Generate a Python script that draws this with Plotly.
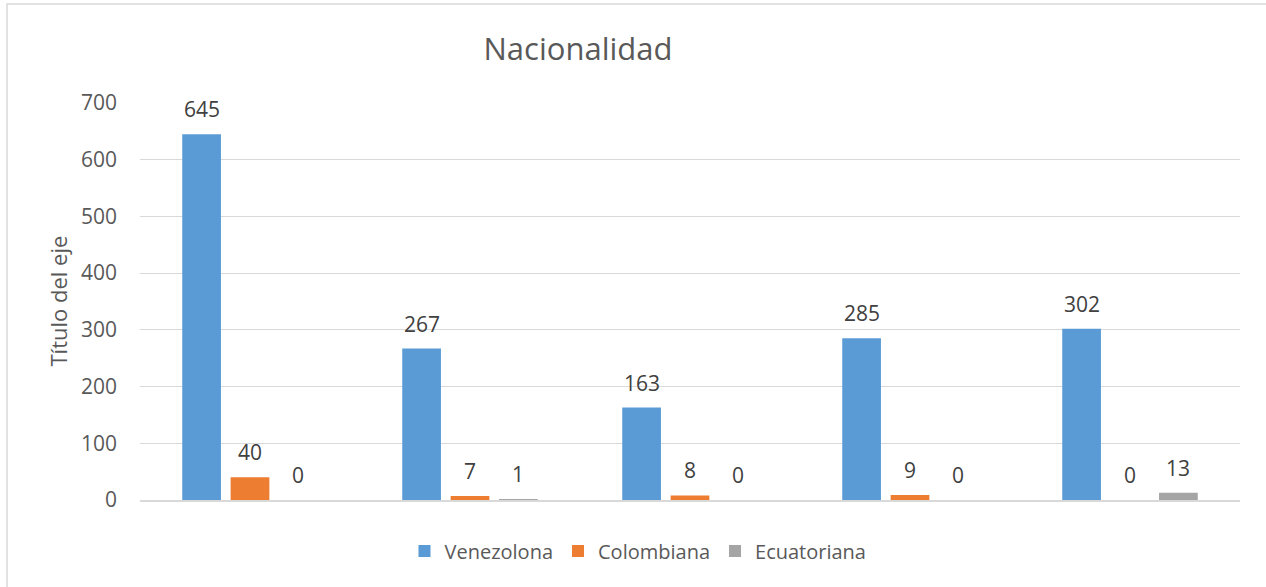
import plotly.graph_objects as go

categories = ["Grupo 1", "Grupo 2", "Grupo 3", "Grupo 4", "Grupo 5"]
venezolona = [645, 267, 163, 285, 302]
colombiana = [40, 7, 8, 9, 0]
ecuatoriana = [0, 1, 0, 0, 13]
series_names = ["Venezolona", "Colombiana", "Ecuatoriana"]
series_colors = ["#5B9BD5", "#ED7D31", "#A5A5A5"]
y_ticks = [0, 100, 200, 300, 400, 500, 600, 700]

FONT = "Open Sans"
W, H = 1266, 587
ML, MR, MT, MB = 140, 26, 103, 87
PW = W - ML - MR
PH = H - MT - MB

fig = go.Figure()
all_series = [venezolona, colombiana, ecuatoriana]
for name, vals, col in zip(series_names, all_series, series_colors):
    fig.add_trace(go.Bar(x=categories, y=vals, name=name, marker_color=col,
                         marker_line_width=0))

# data labels
slot = PW / len(categories) * (1 - 0.34) / 3
for i, vals in enumerate(all_series):
    for j, v in enumerate(vals):
        fig.add_annotation(x=j, y=v, text=str(v), showarrow=False,
                           xref="x", yref="y", yanchor="bottom",
                           xshift=(i - 1) * slot, yshift=9,
                           font=dict(family=FONT, size=21, color="#404040"))

# y-axis title
fig.add_annotation(x=(57 - ML) / PW, y=0.5, xref="paper", yref="paper",
                   text="Título del eje", textangle=-90, showarrow=False,
                   xanchor="center", yanchor="middle",
                   font=dict(family=FONT, size=22, color="#595959"))

# chart border (left and top visible)
fig.add_shape(type="rect", xref="paper", yref="paper",
              x0=(7 - ML) / PW, x1=(W + 20 - ML) / PW,
              y0=(PH - (H + 20 - MT)) / PH, y1=(PH + MT - 4) / PH,
              line=dict(color="#d9d9d9", width=1.5), fillcolor="rgba(0,0,0,0)",
              layer="below")

fig.update_layout(
    width=W, height=H,
    margin=dict(l=ML, r=MR, t=MT, b=MB, pad=0),
    paper_bgcolor="white", plot_bgcolor="white",
    barmode="group", bargap=0.34, bargroupgap=0.2,
    title=dict(text="Nacionalidad", xref="container", x=578 / W, xanchor="center",
               yref="container", y=1 - 49 / H, yanchor="middle",
               font=dict(family=FONT, size=31, color="#595959")),
    legend=dict(orientation="h", x=(638 - ML) / PW, xanchor="center",
                y=-51 / PH, yanchor="middle",
                font=dict(family=FONT, size=20, color="#595959"),
                itemwidth=30, traceorder="normal"),
    font=dict(family=FONT, color="#595959"),
)
fig.update_xaxes(type="category", range=[-0.5, len(categories) - 0.5],
                 showticklabels=False, showgrid=False, showline=True,
                 linecolor="#d9d9d9", linewidth=1.5, ticks="", zeroline=False)
fig.update_yaxes(range=[0, 700], tickvals=y_ticks, showgrid=True,
                 gridcolor="#d9d9d9", gridwidth=1.2, zeroline=False,
                 showline=False, ticks="", ticklabelstandoff=22,
                 tickfont=dict(family=FONT, size=21, color="#595959"))

fig.write_html("out.html", config={"displayModeBar": False},
               post_script="document.body.style.margin='0px';"
                           "document.body.style.overflow='hidden';")
